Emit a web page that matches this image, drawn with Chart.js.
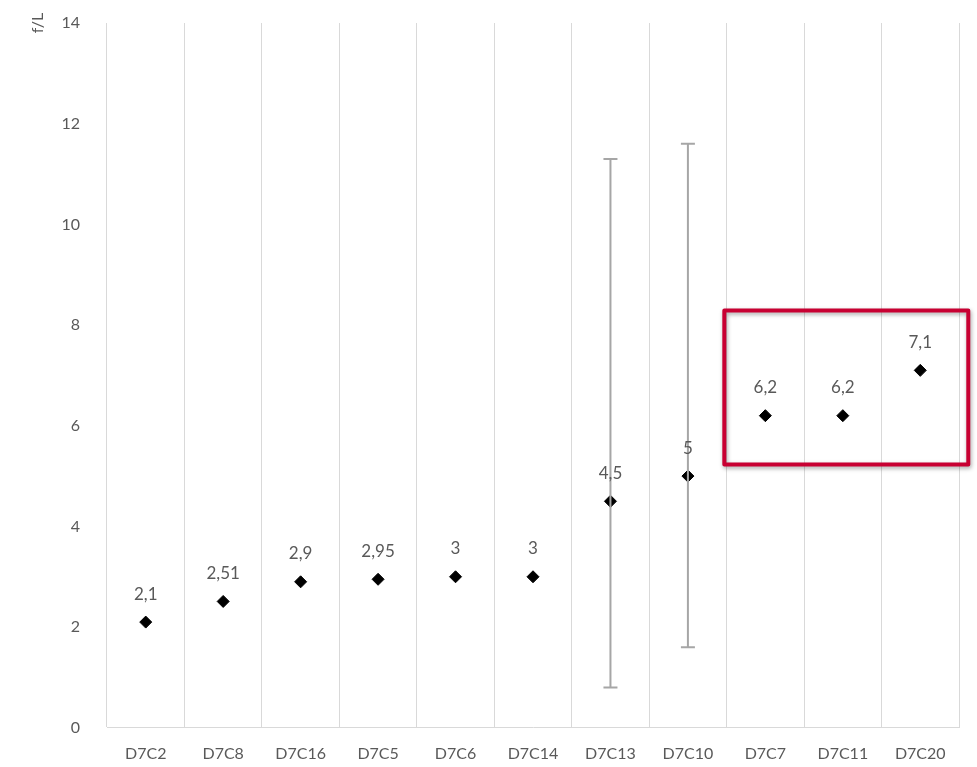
<!DOCTYPE html>
<html>
<head>
<meta charset="utf-8">
<script src="https://cdn.jsdelivr.net/npm/chart.js@4/dist/chart.umd.min.js"></script>
<style>
html,body{margin:0;padding:0;background:#fff;}
#wrap{width:977px;height:767px;}
</style>
</head>
<body>
<div id="wrap"><canvas id="c"></canvas></div>
<script>
const categories = ['D7C2','D7C8','D7C16','D7C5','D7C6','D7C14','D7C13','D7C10','D7C7','D7C11','D7C20'];
const values = [2.1, 2.51, 2.9, 2.95, 3, 3, 4.5, 5, 6.2, 6.2, 7.1];
const errLow = [null, null, null, null, null, null, 0.8, 1.6, null, null, null];
const errHigh = [null, null, null, null, null, null, 11.3, 11.6, null, null, null];
const yTicks = [0, 2, 4, 6, 8, 10, 12, 14];
const yTitle = 'f/L';
// highlight box in data units: [fromIndex, toIndex, yLow, yHigh]
const highlight = [7.47, 10.62, 5.23, 8.29];

const FONT = 'Lato, "Open Sans", sans-serif';
const GRAY = '#595959';

function fmt(v){ return String(v).replace('.', ','); }

const errorBarPlugin = {
  id: 'errorBars',
  afterDatasetsDraw(chart){
    const {ctx, scales:{x, y}} = chart;
    ctx.save();
    ctx.strokeStyle = '#a6a6a6';
    ctx.lineWidth = 2;
    for (let i = 0; i < values.length; i++){
      if (errLow[i] == null) continue;
      const px = x.getPixelForValue(i);
      const y1 = y.getPixelForValue(errLow[i]);
      const y2 = y.getPixelForValue(errHigh[i]);
      ctx.beginPath();
      ctx.moveTo(px, y1); ctx.lineTo(px, y2);
      ctx.moveTo(px-7, y1); ctx.lineTo(px+7, y1);
      ctx.moveTo(px-7, y2); ctx.lineTo(px+7, y2);
      ctx.stroke();
    }
    ctx.restore();
  }
};

const labelPlugin = {
  id: 'labels',
  afterDatasetsDraw(chart){
    const {ctx} = chart;
    const meta = chart.getDatasetMeta(0);
    ctx.save();
    ctx.fillStyle = GRAY;
    ctx.font = '17px ' + FONT;
    ctx.textAlign = 'center';
    ctx.textBaseline = 'middle';
    meta.data.forEach((pt, i) => {
      ctx.fillText(fmt(values[i]), pt.x, pt.y - 28);
    });
    ctx.restore();
  }
};

const titlePlugin = {
  id: 'ytitle',
  afterDraw(chart){
    const {ctx, scales:{y}} = chart;
    ctx.save();
    ctx.fillStyle = GRAY;
    ctx.font = '16px ' + FONT;
    ctx.textAlign = 'center';
    ctx.textBaseline = 'middle';
    ctx.translate(y.left + 10, y.top);
    ctx.rotate(-Math.PI / 2);
    ctx.fillText(yTitle, 0, 0);
    ctx.restore();
  }
};

const boxPlugin = {
  id: 'box',
  afterDraw(chart){
    const {ctx, scales:{x, y}} = chart;
    const x1 = x.getPixelForValue(highlight[0]);
    const x2 = x.getPixelForValue(highlight[1]);
    const y1 = y.getPixelForValue(highlight[3]);
    const y2 = y.getPixelForValue(highlight[2]);
    ctx.save();
    ctx.shadowColor = 'rgba(0,0,0,0.35)';
    ctx.shadowBlur = 4;
    ctx.shadowOffsetX = 1;
    ctx.shadowOffsetY = 2;
    ctx.strokeStyle = '#c80032';
    ctx.lineWidth = 4;
    ctx.lineJoin = 'round';
    ctx.strokeRect(x1, y1, x2 - x1, y2 - y1);
    ctx.restore();
  }
};

new Chart(document.getElementById('c'), {
  type: 'line',
  data: {
    labels: categories,
    datasets: [{
      data: values,
      showLine: false,
      pointStyle: 'rectRot',
      pointRadius: 6,
      pointHoverRadius: 6,
      backgroundColor: '#000',
      borderColor: '#000',
      borderWidth: 1
    }]
  },
  options: {
    responsive: true,
    maintainAspectRatio: false,
    animation: false,
    events: [],
    layout: { padding: { top: 23, right: 18, left: 28, bottom: -12 } },
    plugins: { legend: { display: false }, tooltip: { enabled: false } },
    scales: {
      x: {
        type: 'category',
        offset: true,
        grid: { offset: true, color: '#d9d9d9', lineWidth: 1, drawTicks: false },
        border: { color: '#d9d9d9' },
        ticks: { color: GRAY, font: { size: 16, family: FONT }, padding: 16 }
      },
      y: {
        min: 0, max: 14,
        afterBuildTicks(axis){ axis.ticks = yTicks.map(v => ({value: v})); },
        afterFit(axis){ axis.width = 79; axis.paddingTop = 0; axis.paddingBottom = 0; },
        grid: { display: false, drawTicks: false },
        border: { display: false },
        ticks: { color: GRAY, font: { size: 16, family: FONT }, padding: 27 }
      }
    }
  },
  plugins: [errorBarPlugin, labelPlugin, titlePlugin, boxPlugin]
});
</script>
</body>
</html>
